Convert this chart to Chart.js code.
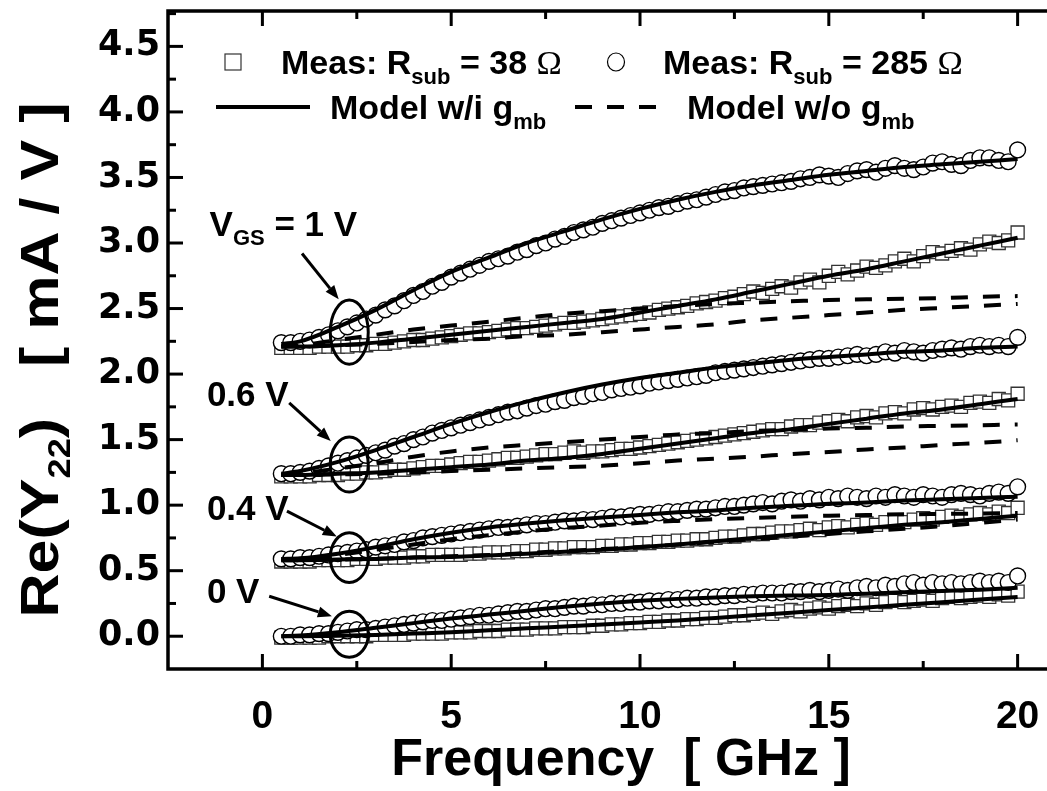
<!DOCTYPE html>
<html>
<head>
<meta charset="utf-8">
<script src="https://cdn.jsdelivr.net/npm/chart.js@4.4.0/dist/chart.umd.min.js"></script>
<style>
  html, body { margin: 0; padding: 0; background: #fff; overflow: hidden; }
  #wrap { position: relative; width: 1047px; height: 791px; }
</style>
</head>
<body>
<div id="wrap"><canvas id="chart"></canvas></div>
<script>
// measured frequency points (GHz)
var freq = [0.5,0.75,1,1.25,1.5,1.75,2,2.25,
  2.5,2.75,3,3.25,3.5,3.75,4,4.25,
  4.5,4.75,5,5.25,5.5,5.75,6,6.25,
  6.5,6.75,7,7.25,7.5,7.75,8,8.25,
  8.5,8.75,9,9.25,9.5,9.75,10,10.25,
  10.5,10.75,11,11.25,11.5,11.75,12,12.25,
  12.5,12.75,13,13.25,13.5,13.75,14,14.25,
  14.5,14.75,15,15.25,15.5,15.75,16,16.25,
  16.5,16.75,17,17.25,17.5,17.75,18,18.25,
  18.5,18.75,19,19.25,19.5,19.75,20];

// measured Re(Y22), Rsub = 285 ohm (circles)
var circ1V = [2.24,2.24,2.25,2.26,2.28,2.30,2.33,2.36,
  2.39,2.42,2.45,2.49,2.52,2.56,2.60,2.63,
  2.67,2.70,2.74,2.77,2.80,2.83,2.86,2.88,
  2.90,2.93,2.95,2.98,3.00,3.03,3.05,3.08,
  3.10,3.12,3.15,3.17,3.19,3.21,3.23,3.25,
  3.27,3.28,3.30,3.32,3.33,3.35,3.37,3.39,
  3.40,3.42,3.43,3.44,3.45,3.46,3.47,3.49,
  3.50,3.52,3.51,3.50,3.53,3.55,3.56,3.54,
  3.57,3.59,3.57,3.56,3.58,3.61,3.62,3.60,
  3.59,3.63,3.65,3.65,3.63,3.62,3.71];
var circ06V = [1.24,1.24,1.25,1.26,1.28,1.30,1.32,1.34,
  1.36,1.38,1.40,1.42,1.45,1.47,1.50,1.52,
  1.55,1.57,1.59,1.61,1.63,1.65,1.67,1.69,
  1.71,1.72,1.74,1.76,1.77,1.79,1.80,1.82,
  1.83,1.85,1.86,1.88,1.89,1.90,1.91,1.93,
  1.94,1.95,1.96,1.97,1.98,1.99,2.01,2.02,
  2.03,2.04,2.05,2.06,2.07,2.08,2.09,2.10,
  2.11,2.12,2.12,2.13,2.14,2.15,2.14,2.15,
  2.17,2.16,2.18,2.17,2.16,2.18,2.19,2.20,
  2.19,2.21,2.22,2.21,2.22,2.21,2.28];
var circ04V = [0.59,0.59,0.60,0.60,0.61,0.62,0.63,0.64,
  0.65,0.66,0.68,0.69,0.70,0.72,0.73,0.75,
  0.76,0.77,0.78,0.79,0.80,0.81,0.82,0.83,
  0.83,0.84,0.85,0.86,0.86,0.87,0.88,0.88,
  0.89,0.89,0.90,0.91,0.91,0.92,0.93,0.93,
  0.94,0.95,0.95,0.96,0.97,0.97,0.98,0.99,
  0.99,1.00,1.01,1.02,1.01,1.03,1.04,1.03,
  1.05,1.04,1.06,1.05,1.07,1.06,1.05,1.07,
  1.06,1.08,1.07,1.06,1.08,1.07,1.06,1.08,
  1.09,1.08,1.07,1.09,1.10,1.09,1.14];
var circ0V = [0.00,0.00,0.01,0.01,0.02,0.02,0.03,0.04,
  0.05,0.05,0.06,0.07,0.08,0.09,0.10,0.11,
  0.12,0.12,0.13,0.14,0.15,0.16,0.16,0.17,
  0.18,0.19,0.19,0.20,0.21,0.21,0.22,0.23,
  0.23,0.24,0.24,0.25,0.25,0.26,0.26,0.27,
  0.27,0.28,0.28,0.29,0.29,0.30,0.30,0.31,
  0.31,0.32,0.32,0.33,0.33,0.33,0.34,0.34,
  0.35,0.34,0.35,0.36,0.35,0.37,0.38,0.37,
  0.39,0.38,0.40,0.41,0.39,0.41,0.40,0.41,
  0.40,0.41,0.42,0.41,0.42,0.41,0.46];

// measured Re(Y22), Rsub = 38 ohm (squares)
var sq1V = [2.20,2.20,2.20,2.20,2.21,2.21,2.21,2.21,
  2.22,2.22,2.23,2.23,2.24,2.25,2.26,2.26,
  2.27,2.28,2.29,2.30,2.31,2.31,2.32,2.33,
  2.34,2.35,2.35,2.36,2.37,2.38,2.39,2.39,
  2.40,2.41,2.42,2.43,2.44,2.45,2.46,2.47,
  2.49,2.50,2.51,2.52,2.54,2.55,2.56,2.58,
  2.59,2.61,2.63,2.62,2.65,2.67,2.66,2.70,
  2.72,2.70,2.75,2.78,2.76,2.79,2.82,2.81,
  2.83,2.86,2.88,2.86,2.90,2.93,2.92,2.94,
  2.96,2.95,2.99,3.01,3.00,3.02,3.08];
var sq06V = [1.22,1.22,1.22,1.22,1.23,1.23,1.23,1.24,
  1.24,1.25,1.25,1.26,1.27,1.27,1.28,1.29,
  1.30,1.30,1.31,1.32,1.33,1.33,1.34,1.35,
  1.36,1.36,1.37,1.38,1.39,1.39,1.40,1.41,
  1.40,1.41,1.41,1.42,1.43,1.43,1.44,1.45,
  1.46,1.47,1.48,1.49,1.50,1.51,1.52,1.53,
  1.54,1.55,1.56,1.57,1.58,1.58,1.60,1.61,
  1.61,1.63,1.64,1.65,1.64,1.67,1.68,1.67,
  1.70,1.71,1.70,1.73,1.74,1.73,1.75,1.76,
  1.75,1.78,1.79,1.78,1.81,1.80,1.85];
var sq04V = [0.57,0.57,0.57,0.57,0.58,0.58,0.58,0.58,
  0.59,0.59,0.59,0.60,0.60,0.60,0.61,0.61,
  0.62,0.62,0.62,0.62,0.63,0.63,0.64,0.64,
  0.64,0.65,0.65,0.66,0.66,0.67,0.67,0.68,
  0.68,0.68,0.69,0.69,0.70,0.70,0.71,0.71,
  0.72,0.72,0.73,0.73,0.74,0.74,0.75,0.76,
  0.76,0.77,0.78,0.78,0.79,0.80,0.80,0.81,
  0.82,0.81,0.83,0.84,0.83,0.85,0.86,0.85,
  0.87,0.88,0.87,0.89,0.90,0.89,0.91,0.92,
  0.91,0.93,0.94,0.93,0.95,0.94,0.98];
var sq0V = [-0.01,-0.01,-0.01,-0.01,-0.01,0.00,0.00,0.00,
  0.00,0.00,0.01,0.01,0.01,0.01,0.02,0.02,
  0.02,0.02,0.03,0.03,0.03,0.04,0.04,0.04,
  0.05,0.05,0.05,0.06,0.06,0.06,0.07,0.07,
  0.07,0.08,0.08,0.09,0.09,0.10,0.10,0.11,
  0.11,0.12,0.12,0.13,0.13,0.14,0.14,0.15,
  0.16,0.16,0.17,0.18,0.17,0.19,0.20,0.19,
  0.21,0.22,0.21,0.23,0.24,0.23,0.25,0.24,
  0.26,0.27,0.26,0.27,0.28,0.27,0.29,0.30,
  0.29,0.30,0.31,0.30,0.32,0.31,0.34];

// model curves
var modelFreq = [0.5,1,2,3,4,5,6,7,8,9,10,11,12,13,14,15,16,17,18,19,20];
// model w/i gmb (solid)
var withC1V  = [2.23,2.25,2.36,2.49,2.64,2.78,2.89,3.00,3.09,3.18,3.26,3.33,3.39,3.44,3.48,3.52,3.55,3.58,3.60,3.62,3.64];
var withS1V  = [2.21,2.21,2.22,2.24,2.27,2.30,2.33,2.36,2.39,2.42,2.47,2.52,2.57,2.63,2.69,2.75,2.80,2.86,2.92,2.98,3.04];
var withC06V = [1.24,1.26,1.33,1.42,1.52,1.62,1.71,1.79,1.86,1.92,1.97,2.01,2.05,2.08,2.11,2.13,2.15,2.17,2.18,2.20,2.21];
var withS06V = [1.23,1.23,1.24,1.25,1.27,1.29,1.31,1.34,1.36,1.39,1.43,1.47,1.51,1.55,1.58,1.62,1.66,1.70,1.73,1.77,1.81];
var withC04V = [0.59,0.595,0.63,0.68,0.74,0.79,0.83,0.86,0.885,0.905,0.925,0.945,0.96,0.98,0.995,1.01,1.02,1.035,1.045,1.055,1.065];
var withS04V = [0.58,0.58,0.585,0.59,0.60,0.605,0.615,0.63,0.645,0.66,0.68,0.70,0.725,0.75,0.775,0.80,0.825,0.85,0.87,0.895,0.92];
var withC0V  = [0.0,0.005,0.03,0.065,0.10,0.135,0.165,0.195,0.225,0.25,0.27,0.285,0.295,0.305,0.31,0.315,0.325,0.335,0.345,0.355,0.37];
var withS0V  = [0.0,0.0,0.003,0.01,0.02,0.03,0.045,0.06,0.075,0.09,0.105,0.12,0.14,0.16,0.18,0.20,0.22,0.24,0.26,0.28,0.30];
// model w/o gmb (dashed)
var woC1V  = [2.21,2.22,2.26,2.30,2.34,2.37,2.40,2.43,2.46,2.48,2.50,2.52,2.535,2.545,2.555,2.565,2.57,2.575,2.58,2.59,2.595];
var woS1V  = [2.21,2.21,2.22,2.23,2.245,2.26,2.27,2.29,2.30,2.32,2.34,2.36,2.38,2.41,2.43,2.45,2.47,2.49,2.505,2.52,2.535];
var woC06V = [1.23,1.24,1.28,1.32,1.37,1.41,1.44,1.46,1.48,1.50,1.52,1.54,1.55,1.565,1.575,1.585,1.59,1.60,1.605,1.61,1.615];
var woS06V = [1.23,1.23,1.235,1.24,1.25,1.26,1.27,1.28,1.29,1.30,1.32,1.34,1.355,1.37,1.39,1.405,1.425,1.44,1.46,1.475,1.495];
var woC04V = [0.59,0.59,0.62,0.66,0.70,0.74,0.77,0.80,0.825,0.845,0.865,0.88,0.893,0.903,0.912,0.92,0.925,0.93,0.933,0.936,0.94];
var woS04V = [0.58,0.58,0.585,0.59,0.60,0.61,0.62,0.635,0.65,0.665,0.68,0.70,0.72,0.74,0.76,0.78,0.80,0.82,0.84,0.865,0.89];

var xTicks = [0,5,10,15,20];
var yTicks = [0,0.5,1,1.5,2,2.5,3,3.5,4,4.5];

// bias labels with the point they mark (GHz, mA/V)
var biasNames = ['1 V','0.6 V','0.4 V','0 V'];
var markF = [2.3,2.3,2.3,2.3];
var markV = [2.32,1.31,0.60,0.015];
var markHalfV = [0.245,0.21,0.19,0.175];
var labelF = [-1.4,-1.47,-1.47,-1.47];
var labelV = [3.05,1.755,0.89,0.25];
var arrowFrom = [[1.05,2.92],[0.71,1.78],[0.65,0.955],[0.18,0.305]];
var arrowTo = [[2.02,2.57],[1.81,1.49],[1.97,0.76],[1.84,0.153]];

var SANS = '"Liberation Sans", Arial, sans-serif';

function pts(xs, ys) {
  return xs.map(function(x, i) { return {x: x, y: ys[i]}; });
}

function squares(ys) {
  return { data: pts(freq, ys), pointStyle: 'rect', pointRadius: 9.2, borderWidth: 1.3,
    borderColor: '#333', backgroundColor: '#fff', showLine: false, order: 2 };
}
function circles(ys) {
  return { data: pts(freq, ys), pointStyle: 'circle', pointRadius: 7.9, borderWidth: 1.4,
    borderColor: '#000', backgroundColor: '#fff', showLine: false, order: 1 };
}
function model(ys, dashed) {
  return { data: pts(modelFreq, ys), showLine: true, pointRadius: 0, borderWidth: 4,
    borderColor: '#000', borderDash: dashed ? [17, 15] : [], cubicInterpolationMode: 'monotone',
    fill: false, order: 0 };
}

function drawRich(ctx, parts, x, y, sx) {
  ctx.save();
  ctx.translate(x, y);
  ctx.scale(sx || 1, 1);
  var cx = 0;
  parts.forEach(function(p) {
    ctx.font = p.f || ('bold ' + p.s + 'px ' + SANS);
    ctx.fillText(p.t, cx, p.dy || 0);
    cx += ctx.measureText(p.t).width;
  });
  ctx.restore();
  return cx * (sx || 1);
}
function measureRich(ctx, parts) {
  var w = 0;
  parts.forEach(function(p) {
    ctx.font = p.f || ('bold ' + p.s + 'px ' + SANS);
    w += ctx.measureText(p.t).width;
  });
  return w;
}

function arrow(ctx, x1, y1, x2, y2) {
  var a = Math.atan2(y2 - y1, x2 - x1);
  var hl = 14, hw = 5.5;
  ctx.beginPath();
  ctx.moveTo(x1, y1);
  ctx.lineTo(x2 - hl * Math.cos(a), y2 - hl * Math.sin(a));
  ctx.lineWidth = 3;
  ctx.stroke();
  ctx.beginPath();
  ctx.moveTo(x2, y2);
  ctx.lineTo(x2 - hl * Math.cos(a) + hw * Math.sin(a), y2 - hl * Math.sin(a) - hw * Math.cos(a));
  ctx.lineTo(x2 - hl * Math.cos(a) - hw * Math.sin(a), y2 - hl * Math.sin(a) + hw * Math.cos(a));
  ctx.closePath();
  ctx.fill();
}

// keep the plot box fixed: no extra room for half labels
function noPad(scale) {
  scale.paddingLeft = 0; scale.paddingRight = 0;
  scale.paddingTop = 0; scale.paddingBottom = 0;
}

var decor = {
  id: 'decor',
  afterDraw: function(chart) {
    var ctx = chart.ctx, ca = chart.chartArea;
    var xs = chart.scales.x, ys = chart.scales.y;
    ctx.save();
    ctx.strokeStyle = '#000';
    ctx.fillStyle = '#000';
    ctx.lineCap = 'butt';

    // frame (right edge falls outside the picture)
    ctx.lineWidth = 3.5;
    ctx.beginPath();
    ctx.moveTo(chart.width, ca.top);
    ctx.lineTo(ca.left, ca.top);
    ctx.lineTo(ca.left, ca.bottom);
    ctx.lineTo(chart.width, ca.bottom);
    ctx.stroke();

    // inward ticks
    ctx.lineWidth = 3;
    var xMinor = xTicks.slice(1).map(function(v, i) { return (v + xTicks[i]) / 2; });
    var yMinor = yTicks.map(function(v) { return v + 0.25; });
    function xt(v, len) {
      var px = xs.getPixelForValue(v);
      ctx.beginPath();
      ctx.moveTo(px, ca.bottom); ctx.lineTo(px, ca.bottom - len);
      ctx.moveTo(px, ca.top); ctx.lineTo(px, ca.top + len);
      ctx.stroke();
    }
    function yt(v, len) {
      var py = ys.getPixelForValue(v);
      if (py <= ca.top + 2 || py >= ca.bottom - 2) return;
      ctx.beginPath();
      ctx.moveTo(ca.left, py); ctx.lineTo(ca.left + len, py);
      ctx.stroke();
    }
    xTicks.forEach(function(v) { xt(v, 15); });
    xMinor.forEach(function(v) { xt(v, 8); });
    yTicks.forEach(function(v) { yt(v, 15); });
    yMinor.forEach(function(v) { yt(v, 8); });

    // ellipses, arrows, bias labels
    ctx.lineWidth = 3;
    for (var i = 0; i < biasNames.length; i++) {
      var cx = xs.getPixelForValue(markF[i]), cy = ys.getPixelForValue(markV[i]);
      var ry = ys.getPixelForValue(markV[i] - markHalfV[i]) - cy;
      ctx.beginPath();
      ctx.ellipse(cx, cy, 19, ry, 0, 0, Math.PI * 2);
      ctx.stroke();
      arrow(ctx, xs.getPixelForValue(arrowFrom[i][0]), ys.getPixelForValue(arrowFrom[i][1]),
        xs.getPixelForValue(arrowTo[i][0]), ys.getPixelForValue(arrowTo[i][1]));
      var lx = xs.getPixelForValue(labelF[i]), ly = ys.getPixelForValue(labelV[i]);
      ctx.textBaseline = 'alphabetic';
      if (i === 0) {
        drawRich(ctx, [{t: 'V', s: 35}, {t: 'GS', s: 22, dy: 9}, {t: ' = ' + biasNames[i], s: 35}], lx, ly);
      } else {
        drawRich(ctx, [{t: biasNames[i], s: 35}], lx, ly);
      }
    }

    // legend
    ctx.textBaseline = 'alphabetic';
    var omega = {t: '\u03A9', f: 'normal 34px "Liberation Serif", serif'};
    ctx.lineWidth = 1.2;
    ctx.strokeStyle = '#333';
    ctx.fillStyle = '#fff';
    ctx.fillRect(225, 54, 16, 16);
    ctx.strokeRect(225, 54, 16, 16);
    ctx.strokeStyle = '#000';
    ctx.beginPath();
    ctx.ellipse(616, 62, 8.5, 9, 0, 0, Math.PI * 2);
    ctx.fill();
    ctx.stroke();
    ctx.fillStyle = '#000';
    drawRich(ctx, [{t: 'Meas: R', s: 34}, {t: 'sub', s: 22, dy: 10}, {t: ' = 38 ', s: 34}, omega], 281, 74);
    drawRich(ctx, [{t: 'Meas: R', s: 34}, {t: 'sub', s: 22, dy: 10}, {t: ' = 285 ', s: 34}, omega], 663, 74);
    ctx.lineWidth = 4;
    ctx.beginPath();
    ctx.moveTo(216, 107); ctx.lineTo(310, 107);
    ctx.stroke();
    ctx.setLineDash([17, 15]);
    ctx.beginPath();
    ctx.moveTo(575, 107); ctx.lineTo(657, 107);
    ctx.stroke();
    ctx.setLineDash([]);
    drawRich(ctx, [{t: 'Model w/i g', s: 34}, {t: 'mb', s: 22, dy: 10}], 330, 119);
    drawRich(ctx, [{t: 'Model w/o g', s: 34}, {t: 'mb', s: 22, dy: 10}], 687, 119);

    // axis titles
    var xt0 = [{t: 'Frequency  [ GHz ]', s: 52}];
    var w = measureRich(ctx, xt0);
    drawRich(ctx, xt0, 621 - w / 2, 775);
    var yt0 = [{t: 'Re(Y', s: 54}, {t: '22', s: 32, dy: 12}, {t: ')   [ mA / V ]', s: 54}];
    w = measureRich(ctx, yt0);
    var sy = 515 / w;
    ctx.save();
    ctx.translate(58, 360);
    ctx.rotate(-Math.PI / 2);
    drawRich(ctx, yt0, -w * sy / 2, 0, sy);
    ctx.restore();

    ctx.restore();
  }
};

new Chart(document.getElementById('chart'), {
  type: 'scatter',
  data: {
    datasets: [
      model(withC1V), model(withS1V), model(withC06V), model(withS06V),
      model(withC04V), model(withS04V), model(withC0V), model(withS0V),
      model(woC1V, true), model(woS1V, true), model(woC06V, true), model(woS06V, true),
      model(woC04V, true), model(woS04V, true),
      circles(circ1V), circles(circ06V), circles(circ04V), circles(circ0V),
      squares(sq1V), squares(sq06V), squares(sq04V), squares(sq0V)
    ]
  },
  options: {
    responsive: true,
    maintainAspectRatio: false,
    devicePixelRatio: 1,
    animation: false,
    layout: { padding: { top: 11, right: 0, left: 0, bottom: 0 } },
    plugins: { legend: { display: false }, tooltip: { enabled: false } },
    scales: {
      x: {
        type: 'linear', min: -2.5, max: 20.5,
        afterBuildTicks: function(scale) { scale.ticks = xTicks.map(function(v) { return {value: v}; }); },
        afterFit: function(scale) { scale.height = 122; noPad(scale); },
        grid: { display: false, drawTicks: false },
        border: { display: false },
        ticks: { color: '#000', padding: 25, maxRotation: 0, font: { family: SANS, size: 39, weight: 'bold' } }
      },
      y: {
        type: 'linear', min: -0.25, max: 4.77,
        afterBuildTicks: function(scale) { scale.ticks = yTicks.map(function(v) { return {value: v}; }); },
        afterFit: function(scale) { scale.width = 168; noPad(scale); },
        grid: { display: false, drawTicks: false },
        border: { display: false },
        ticks: { color: '#000', padding: 8, font: { family: '"DejaVu Sans", sans-serif', size: 35, weight: 'bold' },
          callback: function(v) { return v.toFixed(1); } }
      }
    }
  },
  plugins: [decor]
});
</script>
</body>
</html>
